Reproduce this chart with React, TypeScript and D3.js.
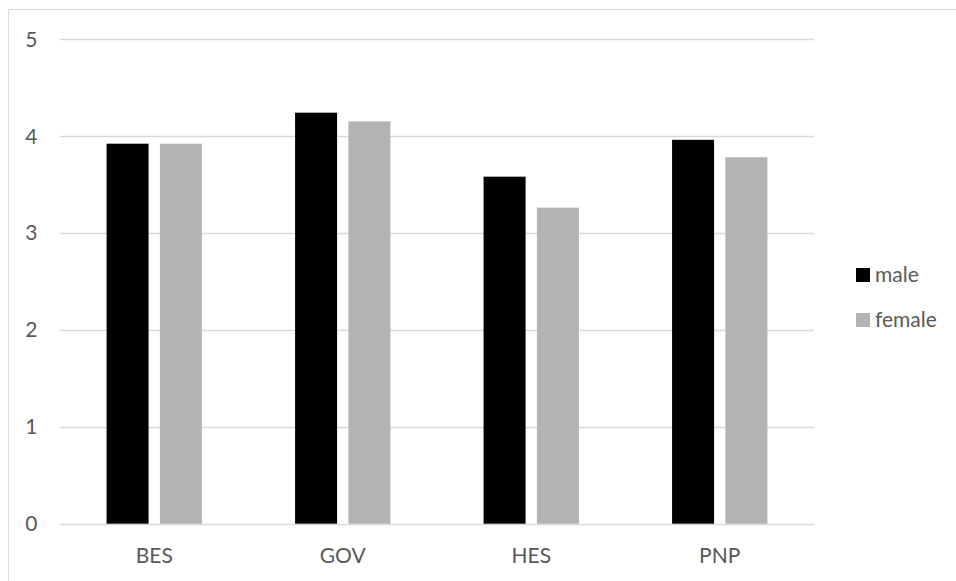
import React from "react";
import * as d3 from "d3";

// Mean scores by sector, split by gender
const categories = ["BES", "GOV", "HES", "PNP"];
const male = [3.92, 4.24, 3.58, 3.96];
const female = [3.92, 4.15, 3.26, 3.78];
const seriesNames = ["male", "female"];
const yTicks = [0, 1, 2, 3, 4, 5];

const W = 956;
const H = 581;
const FONT = "Lato, 'Open Sans', sans-serif";
const TEXT = "#595959";
const GRID = "#d9d9d9";
const COLORS = ["#000000", "#b3b3b3"];
const FS = 21;

export default function App() {
  const plot = { left: 60, right: 814, top: 39, bottom: 523.7 };

  const x = d3
    .scaleBand<string>()
    .domain(categories)
    .range([plot.left, plot.right])
    .paddingInner(0)
    .paddingOuter(0);

  const y = d3.scaleLinear().domain([0, 5]).range([plot.bottom, plot.top]);

  const barW = x.bandwidth() * 0.2228;
  const gap = barW * 0.27;

  const series = [male, female];

  return (
    <svg
      width={W}
      height={H}
      style={{ position: "absolute", left: 0, top: 0, background: "#fff" }}
      fontFamily={FONT}
    >
      <rect x={0} y={0} width={W} height={H} fill="#fff" />
      {/* chart area border */}
      <rect x={8.5} y={9.5} width={W + 20} height={H + 20} fill="none" stroke={GRID} strokeWidth={1} />

      {/* gridlines and y labels */}
      {yTicks.map((t) => (
        <g key={t}>
          <line
            x1={plot.left}
            x2={plot.right}
            y1={Math.round(y(t)) + 0.5}
            y2={Math.round(y(t)) + 0.5}
            stroke={GRID}
            strokeWidth={1.3}
          />
          <text
            x={37.5}
            y={y(t)}
            dy="0.36em"
            textAnchor="end"
            fontSize={FS}
            fill={TEXT}
          >
            {t}
          </text>
        </g>
      ))}

      {/* bars */}
      {categories.map((c, i) => {
        const cx = (x(c) as number) + x.bandwidth() / 2;
        return (
          <g key={c}>
            {series.map((vals, s) => {
              const bx = s === 0 ? cx - gap / 2 - barW : cx + gap / 2;
              return (
                <rect
                  key={s}
                  x={bx}
                  y={y(vals[i])}
                  width={barW}
                  height={y(0) - y(vals[i])}
                  fill={COLORS[s]}
                />
              );
            })}
            <text
              x={cx}
              y={563}
              textAnchor="middle"
              fontSize={FS}
              fill={TEXT}
            >
              {c}
            </text>
          </g>
        );
      })}

      {/* legend */}
      {seriesNames.map((n, i) => {
        const ly = 275 + i * 45;
        return (
          <g key={n}>
            <rect x={856} y={ly - 7} width={14} height={14} fill={COLORS[i]} />
            <text x={875} y={ly + 7} fontSize={FS} fill={TEXT}>
              {n}
            </text>
          </g>
        );
      })}
    </svg>
  );
}
